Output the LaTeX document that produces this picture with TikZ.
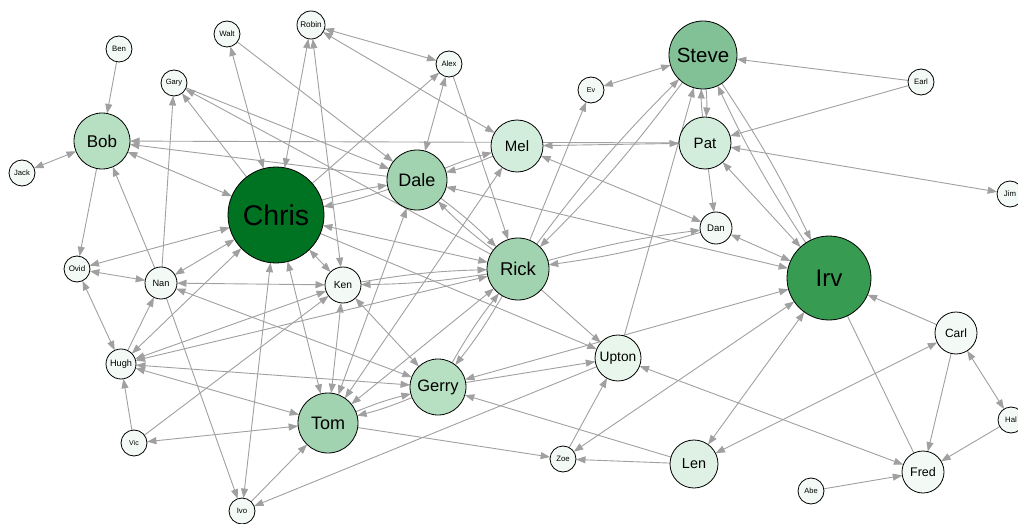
\documentclass[tikz,border=0pt]{standalone}
\usepackage{fontspec}
\setmainfont{Liberation Sans}
\usetikzlibrary{arrows.meta,backgrounds}

\definecolor{edgegray}{RGB}{160,160,160}
\definecolor{gA}{RGB}{0,115,35}
\definecolor{gB}{RGB}{55,155,82}
\definecolor{gC}{RGB}{130,193,149}
\definecolor{gD}{RGB}{161,211,176}
\definecolor{gE}{RGB}{183,224,195}
\definecolor{gF}{RGB}{210,237,219}
\definecolor{gG}{RGB}{222,241,228}
\definecolor{gH}{RGB}{232,246,236}
\definecolor{gI}{RGB}{243,250,246}

\begin{document}
\begin{tikzpicture}[x=1pt,y=-1pt,
  person/.style n args={3}{circle, draw=black, line width=0.8pt,
    inner sep=0pt, outer sep=0pt, minimum size={2*#1pt},
    font=\fontsize{#2}{#2}\selectfont, fill=#3},
  tip/.tip={Triangle[length=9.5pt,width=7pt]},
  e/.style={draw=edgegray, line width=0.9pt, -tip},
  eb/.style={draw=edgegray, line width=0.9pt, tip-tip},
  en/.style={draw=edgegray, line width=0.9pt},
  pair/.style={bend left=4}]
\useasboundingbox (0,0) rectangle (1018,524);

% people, sized and shaded by how connected they are
\node[person={48}{28.5}{gA}] (Chris) at (276,215) {Chris};
\node[person={42}{24}{gB}] (Irv) at (829,278) {Irv};
\node[person={34}{20.5}{gC}] (Steve) at (703,55) {Steve};
\node[person={30}{18}{gD}] (Dale) at (417,180) {Dale};
\node[person={31}{18.5}{gD}] (Rick) at (518,269) {Rick};
\node[person={30}{18}{gD}] (Tom) at (328,423) {Tom};
\node[person={28}{17}{gE}] (Bob) at (102,141) {Bob};
\node[person={28}{16.5}{gE}] (Gerry) at (438,387) {Gerry};
\node[person={26}{15}{gF}] (Mel) at (517,146) {Mel};
\node[person={26}{15}{gF}] (Pat) at (705,143) {Pat};
\node[person={24}{14.4}{gG}] (Len) at (694,464) {Len};
\node[person={23}{13.7}{gH}] (Upton) at (618,358) {Upton};
\node[person={21}{12}{gI}] (Carl) at (956,333) {Carl};
\node[person={21}{12.5}{gI}] (Fred) at (923,472) {Fred};
\node[person={18}{10.3}{gI}] (Ken) at (343,285) {Ken};
\node[person={16}{9.6}{gI}] (Dan) at (716,228) {Dan};
\node[person={16}{9.2}{gI}] (Nan) at (161,283) {Nan};
\node[person={15}{9.2}{gI}] (Hugh) at (121,364) {Hugh};
\node[person={14}{8.2}{gI}] (Robin) at (311,25) {Robin};
\node[person={13}{7.8}{gI}] (Ben) at (119,49) {Ben};
\node[person={13}{7.8}{gI}] (Walt) at (227,34) {Walt};
\node[person={13}{7.6}{gI}] (Gary) at (174,83) {Gary};
\node[person={13}{7.7}{gI}] (Alex) at (449,64) {Alex};
\node[person={13}{7.2}{gI}] (Ev) at (591,90) {Ev};
\node[person={13}{7.8}{gI}] (Earl) at (921,82) {Earl};
\node[person={13}{7.6}{gI}] (Jack) at (22,173) {Jack};
\node[person={13}{7.8}{gI}] (Jim) at (1010,194) {Jim};
\node[person={13}{8}{gI}] (Ovid) at (77,269) {Ovid};
\node[person={13}{7}{gI}] (Vic) at (134,443) {Vic};
\node[person={13}{7.8}{gI}] (Zoe) at (563,459) {Zoe};
\node[person={13}{7.8}{gI}] (Ivo) at (242,511) {Ivo};
\node[person={13}{7.5}{gI}] (Abe) at (811,491) {Abe};
\node[person={13}{7.8}{gI}] (Hal) at (1011,420) {Hal};

\begin{pgfonlayer}{background}
% one-way ties
\draw[e] (Ben) -- (Bob);
\draw[e] (Bob) -- (Ovid);
\draw[e] (Nan) -- (Bob);
\draw[e] (Pat) -- (Bob);
\draw[e] (Dale) -- (Bob);
\draw[e] (Nan) -- (Gary);
\draw[e] (Chris) -- (Gary);
\draw[e] (Hugh) -- (Nan);
\draw[e] (Nan) -- (Ivo);
\draw[e] (Vic) -- (Hugh);
\draw[e] (Vic) -- (Ken);
\draw[e] (Chris) -- (Alex);
\draw[e] (Chris) -- (Upton);
\draw[e] (Walt) -- (Dale);
\draw[e] (Alex) -- (Rick);
\draw[e] (Gary) -- (Dale);
\draw[e] (Rick) -- (Gary);
\draw[e] (Rick) -- (Ev);
\draw[e] (Earl) -- (Steve);
\draw[e] (Earl) -- (Pat);
\draw[e] (Upton) -- (Steve);
\draw[e] (Pat) -- (Dan);
\draw[e] (Carl) -- (Irv);
\draw[e] (Carl) -- (Fred);
\draw[e] (Hal) -- (Fred);
\draw[e] (Abe) -- (Fred);
\draw[e] (Tom) -- (Zoe);
\draw[e] (Len) -- (Zoe);
\draw[e] (Len) -- (Gerry);
\draw[e] (Zoe) -- (Upton);
\draw[e] (Upton) -- (Ivo);
\draw[e] (Ivo) -- (Tom);
\draw[e] (Rick) -- (Upton);
\draw[e] (Gerry) -- (Upton);
\draw[en] (Irv) -- (Fred);

% mutual ties on a single line
\draw[eb] (Jack) -- (Bob);
\draw[eb] (Bob) -- (Chris);
\draw[eb] (Ovid) -- (Chris);
\draw[eb] (Ovid) -- (Nan);
\draw[eb] (Ovid) -- (Hugh);
\draw[eb] (Nan) -- (Chris);
\draw[eb] (Nan) -- (Ken);
\draw[eb] (Nan) -- (Gerry);
\draw[eb] (Hugh) -- (Chris);
\draw[eb] (Hugh) -- (Ken);
\draw[eb] (Hugh) -- (Rick);
\draw[eb] (Hugh) -- (Tom);
\draw[eb] (Hugh) -- (Gerry);
\draw[eb] (Walt) -- (Chris);
\draw[eb] (Robin) -- (Chris);
\draw[eb] (Chris) -- (Rick);
\draw[eb] (Chris) -- (Ken);
\draw[eb] (Chris) -- (Tom);
\draw[eb] (Chris) -- (Ivo);
\draw[eb] (Robin) -- (Alex);
\draw[eb] (Robin) -- (Mel);
\draw[eb] (Robin) -- (Ken);
\draw[eb] (Alex) -- (Dale);
\draw[eb] (Dale) -- (Irv);
\draw[eb] (Tom) -- (Dale);
\draw[eb] (Mel) -- (Pat);
\draw[eb] (Mel) -- (Tom);
\draw[eb] (Mel) -- (Dan);
\draw[eb] (Ken) -- (Gerry);
\draw[eb] (Ken) -- (Tom);
\draw[eb] (Tom) -- (Rick);
\draw[eb] (Ev) -- (Steve);
\draw[eb] (Pat) -- (Jim);
\draw[eb] (Pat) -- (Irv);
\draw[eb] (Dan) -- (Irv);
\draw[eb] (Gerry) -- (Irv);
\draw[eb] (Zoe) -- (Irv);
\draw[eb] (Len) -- (Irv);
\draw[eb] (Upton) -- (Fred);
\draw[eb] (Carl) -- (Len);
\draw[eb] (Carl) -- (Hal);
\draw[eb] (Vic) -- (Tom);

% mutual ties drawn as two separate lines
\draw[e] (Chris) to[pair] (Dale);  \draw[e] (Dale) to[pair] (Chris);
\draw[e] (Dale) to[pair] (Mel);    \draw[e] (Mel) to[pair] (Dale);
\draw[e] (Dale) to[pair] (Rick);   \draw[e] (Rick) to[pair] (Dale);
\draw[e] (Ken) to[pair] (Rick);    \draw[e] (Rick) to[pair] (Ken);
\draw[e] (Rick) to[pair] (Gerry);  \draw[e] (Gerry) to[pair] (Rick);
\draw[e] (Rick) to[pair] (Steve);  \draw[e] (Steve) to[pair] (Rick);
\draw[e] (Rick) to[pair] (Dan);    \draw[e] (Dan) to[pair] (Rick);
\draw[e] (Steve) to[pair] (Pat);   \draw[e] (Pat) to[pair] (Steve);
\draw[e] (Steve) to[pair] (Irv);   \draw[e] (Irv) to[pair] (Steve);
\draw[e] (Tom) to[pair] (Gerry);   \draw[e] (Gerry) to[pair] (Tom);
\end{pgfonlayer}
\end{tikzpicture}
\end{document}
